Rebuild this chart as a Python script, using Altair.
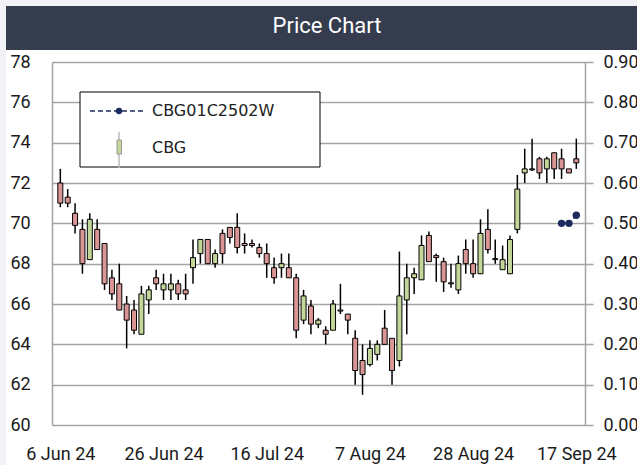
import altair as alt
import pandas as pd

# ---------------- data ----------------
tick_labels = ["6 Jun 24", "26 Jun 24", "16 Jul 24", "7 Aug 24", "28 Aug 24", "17 Sep 24"]
tick_every = 14  # trading days between labels

opens = [72.0, 71.3, 70.5, 69.7, 68.2, 69.7, 69.0, 67.3, 67.0, 66.0,
         65.7, 64.5, 66.2, 67.3, 66.7, 66.7, 67.0, 66.7, 67.8, 68.5,
         69.2, 68.0, 69.5, 69.8, 69.8, 69.0, 69.0, 68.8, 68.5, 67.8,
         67.8, 67.8, 67.3, 65.2, 65.9, 65.0, 64.7, 64.7, 65.7, 65.5,
         64.3, 63.2, 63.0, 63.5, 64.8, 64.3, 63.2, 66.2, 67.3, 67.2,
         69.4, 68.4, 68.1, 67.0, 66.7, 68.7, 68.0, 67.5, 69.7, 68.2,
         67.7, 67.5, 69.7, 72.5, 72.7, 73.2, 72.7, 73.5, 73.2, 72.7,
         73.2]
highs = [72.7, 71.7, 71.0, 70.2, 70.5, 70.2, 69.0, 67.7, 68.0, 66.4,
         66.2, 66.9, 66.9, 67.7, 67.5, 67.5, 67.2, 67.5, 69.2, 69.2,
         69.2, 68.7, 69.7, 69.8, 70.5, 69.5, 69.2, 69.0, 69.0, 68.3,
         68.5, 68.5, 67.5, 66.7, 66.2, 65.3, 64.9, 66.2, 67.0, 65.5,
         64.7, 64.0, 64.2, 64.2, 65.7, 64.3, 68.6, 68.0, 67.8, 69.4,
         69.6, 68.5, 68.3, 68.0, 68.4, 69.2, 69.2, 70.2, 70.7, 69.2,
         68.9, 69.4, 72.4, 73.7, 74.2, 73.3, 73.3, 73.5, 73.7, 72.7,
         74.2]
lows = [70.8, 70.8, 69.5, 67.5, 68.2, 68.7, 66.7, 66.2, 65.7, 63.8,
        64.5, 64.5, 65.5, 66.7, 66.2, 66.2, 66.2, 66.2, 67.0, 68.0,
        68.0, 67.8, 68.0, 69.0, 68.5, 68.5, 68.8, 68.3, 67.3, 67.0,
        67.3, 67.3, 64.3, 65.0, 64.5, 64.8, 64.0, 64.7, 65.5, 64.5,
        62.0, 61.5, 62.9, 63.2, 64.0, 62.0, 62.9, 64.5, 66.5, 67.2,
        68.1, 67.1, 66.6, 66.8, 66.5, 67.5, 67.3, 67.5, 68.5, 68.0,
        67.7, 67.5, 69.5, 72.0, 72.6, 72.2, 72.0, 72.2, 72.2, 72.5,
        72.7]
closes = [71.0, 71.0, 69.9, 68.0, 70.2, 68.7, 67.0, 66.5, 65.7, 65.2,
          64.7, 66.5, 66.7, 67.0, 67.0, 67.0, 66.5, 66.5, 68.3, 69.2,
          68.0, 68.5, 68.5, 69.3, 68.8, 68.9, 68.9, 68.5, 68.0, 67.3,
          68.0, 67.3, 64.7, 66.4, 65.0, 65.2, 64.5, 66.0, 65.65, 65.2,
          62.7, 62.5, 63.8, 64.0, 64.0, 62.7, 66.4, 67.3, 67.5, 68.9,
          68.1, 68.3, 67.1, 67.05, 68.0, 68.0, 67.5, 69.5, 68.7, 68.25,
          68.2, 69.2, 71.7, 72.7, 72.65, 72.5, 73.2, 72.7, 72.7, 72.5,
          73.0]

warrant_idx = [68, 69, 70]
warrant_price = [0.50, 0.50, 0.52]

stock_name = "CBG"
warrant_name = "CBG01C2502W"
title_text = "Price Chart"

# ---------------- styling ----------------
UP = "#c4d79b"
DOWN = "#da9694"
NAVY = "#1c2b5e"
GRID = "#a3a3a3"
BANNER = "#343c4e"
OUTER = "#f2f2f6"
AX_FONT = "Roboto"
LEG_FONT = "DejaVu Sans"
FS = 18

W, H = 533, 363
PL, PT = 52, 62

n = len(opens)
df = pd.DataFrame({"i": list(range(n)), "open": opens, "high": highs,
                   "low": lows, "close": closes})
df["dir"] = ["up" if c >= o else "down" for o, c in zip(opens, closes)]
wdf = pd.DataFrame({"i": warrant_idx, "p": warrant_price})
one = pd.DataFrame({"a": [0]})

xscale = alt.Scale(domain=[-0.45, n - 0.5], nice=False, zero=False)
yscale = alt.Scale(domain=[60, 78], nice=False, zero=False)
rscale = alt.Scale(domain=[0, 0.9], nice=False, zero=True)

label_expr = "[" + ",".join(f"'{t}'" for t in tick_labels) + f"][round(datum.value/{tick_every})]"
xaxis = alt.Axis(values=[k * tick_every for k in range(len(tick_labels))],
                 labelExpr=label_expr, title=None, grid=False, ticks=False,
                 domain=False, labelFont=AX_FONT, labelFontSize=FS,
                 labelColor="#1a1a1a", labelPadding=20, labelOverlap=False,
                 labelFlush=False, labelBound=False)
yaxis_left = alt.Axis(values=list(range(60, 79, 2)), format="d", title=None,
                      grid=True, gridColor=GRID, gridWidth=1.5, ticks=False,
                      tickSize=0, domainColor=GRID, domainWidth=1.5,
                      labelAlign="left", labelBaseline="middle", labelPadding=42,
                      labelFont=AX_FONT, labelFontSize=FS, labelColor="#1a1a1a",
                      labelFlush=False)
yaxis_right = alt.Axis(orient="right", values=[round(k * 0.1, 1) for k in range(10)],
                       format=".2f", title=None, grid=False, ticks=True, tickSize=8,
                       tickColor=GRID, tickWidth=1.5, domainColor=GRID, domainWidth=1.5,
                       labelPadding=10, labelBaseline="middle", labelFlush=False,
                       labelFont=AX_FONT, labelFontSize=FS, labelColor="#1a1a1a")

# ---------------- decoration ----------------
def rect(x, x2, y, y2, color):
    return alt.Chart(one).mark_rect(color=color).encode(
        x=alt.value(x), x2=alt.value(x2), y=alt.value(y), y2=alt.value(y2))

strip_left = rect(-PL, -PL + 6, -PT, H + 40, OUTER)
strip_top = rect(-PL, W + 52, -PT, -PT + 6, OUTER)
banner = rect(-PL + 6, W + 52, -PT + 6, -12, BANNER)
title = alt.Chart(one).mark_text(text=title_text, color="white", font=AX_FONT,
                                 fontSize=22, fontWeight="normal", align="center",
                                 baseline="middle").encode(
    x=alt.value(275), y=alt.value(-36))

# ---------------- candles ----------------
wicks = alt.Chart(df).mark_rule(color="black", strokeWidth=1.5).encode(
    x=alt.X("i:Q", scale=xscale, axis=xaxis),
    y=alt.Y("low:Q", scale=yscale, axis=yaxis_left),
    y2="high:Q")
bodies = alt.Chart(df).mark_bar(size=5, stroke="black", strokeWidth=1).encode(
    x=alt.X("i:Q", scale=xscale, axis=xaxis),
    y=alt.Y("open:Q", scale=yscale, axis=yaxis_left),
    y2="close:Q",
    fill=alt.Fill("dir:N", scale=alt.Scale(domain=["up", "down"], range=[UP, DOWN]),
                  legend=None))
candles = alt.layer(wicks, bodies)

wline = alt.Chart(wdf).mark_line(
    color=NAVY, strokeDash=[4, 3], strokeWidth=2,
    point=alt.OverlayMarkDef(filled=True, color=NAVY, size=55, opacity=1)).encode(
    x=alt.X("i:Q", scale=xscale, axis=xaxis),
    y=alt.Y("p:Q", scale=rscale, axis=yaxis_right))

# ---------------- legend ----------------
leg_box = alt.Chart(one).mark_rect(fill="white", stroke="black", strokeWidth=1).encode(
    x=alt.value(28), x2=alt.value(268), y=alt.value(30), y2=alt.value(105))
leg_line = alt.Chart(one).mark_rule(color=NAVY, strokeDash=[5, 3], strokeWidth=1.5).encode(
    x=alt.value(38), x2=alt.value(94), y=alt.value(49))
leg_dot = alt.Chart(one).mark_point(filled=True, color=NAVY, size=40, opacity=1).encode(
    x=alt.value(67), y=alt.value(49))
leg_wick = alt.Chart(one).mark_rule(color="#bbbbbb", strokeWidth=1.5).encode(
    x=alt.value(67), y=alt.value(70), y2=alt.value(106))
leg_body = alt.Chart(one).mark_rect(fill=UP, stroke="#999999", strokeWidth=1).encode(
    x=alt.value(65), x2=alt.value(69.5), y=alt.value(78), y2=alt.value(92))
leg_t1 = alt.Chart(one).mark_text(text=warrant_name, font=LEG_FONT, fontSize=16,
                                  color="#222", align="left", baseline="middle").encode(
    x=alt.value(100), y=alt.value(49))
leg_t2 = alt.Chart(one).mark_text(text=stock_name, font=LEG_FONT, fontSize=16,
                                  color="#222", align="left", baseline="middle").encode(
    x=alt.value(100), y=alt.value(86))

chart = alt.layer(
    strip_left, strip_top, banner, title,
    candles, wline,
    leg_box, leg_line, leg_dot, leg_wick, leg_body, leg_t1, leg_t2
).resolve_scale(y="independent").properties(
    width=W, height=H,
    padding={"left": PL, "top": PT, "right": 637 - PL - W, "bottom": 465 - PT - H},
    autosize=alt.AutoSizeParams(type="none"),
    background="white",
).configure_view(stroke=None)

chart.save("out.html", embed_options={"renderer": "svg", "actions": False})
